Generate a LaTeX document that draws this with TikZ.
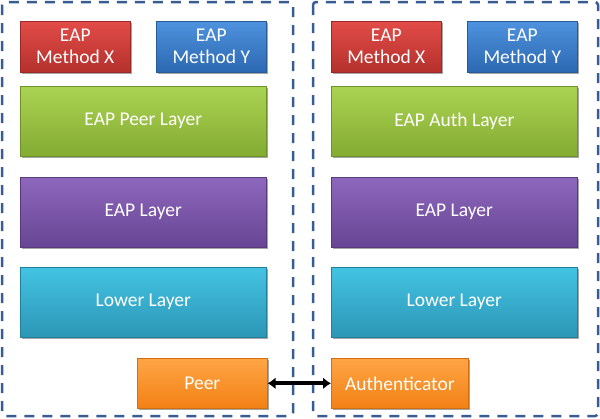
\documentclass[tikz,border=0pt]{standalone}
\usepackage{fontspec}
\setmainfont{Carlito}
\usetikzlibrary{shadows,arrows.meta}
\definecolor{frameblue}{HTML}{385D92}
\definecolor{redT}{HTML}{E24C48}\definecolor{redB}{HTML}{B5302C}\definecolor{redD}{HTML}{9A2A27}
\definecolor{bluT}{HTML}{4E92DD}\definecolor{bluB}{HTML}{2C68B2}\definecolor{bluD}{HTML}{265A99}
\definecolor{grnT}{HTML}{ABD352}\definecolor{grnB}{HTML}{84AB32}\definecolor{grnD}{HTML}{6F912A}
\definecolor{purT}{HTML}{8D67BC}\definecolor{purB}{HTML}{684594}\definecolor{purD}{HTML}{573A7C}
\definecolor{cyaT}{HTML}{43C3E2}\definecolor{cyaB}{HTML}{2C96B6}\definecolor{cyaD}{HTML}{23809C}
\definecolor{orgT}{HTML}{FFA545}\definecolor{orgB}{HTML}{F28115}\definecolor{orgD}{HTML}{D06E10}
\tikzset{
  frame/.style={draw=frameblue,line width=2.5pt,dash pattern=on 10pt off 8pt,rounded corners=3pt},
  blk/.style={anchor=north west,inner sep=0pt,text=white,font=\fontsize{19.5}{22}\selectfont,align=center,
    drop shadow={shadow xshift=1.5pt,shadow yshift=-1.5pt,opacity=0.35,fill=black}},
  redblk/.style={blk,top color=redT,bottom color=redB,draw=redD,line width=0.6pt},
  blublk/.style={blk,top color=bluT,bottom color=bluB,draw=bluD,line width=0.6pt},
  grnblk/.style={blk,top color=grnT,bottom color=grnB,draw=grnD,line width=0.6pt},
  purblk/.style={blk,top color=purT,bottom color=purB,draw=purD,line width=0.6pt},
  cyablk/.style={blk,top color=cyaT,bottom color=cyaB,draw=cyaD,line width=0.6pt},
  orgblk/.style={blk,top color=orgT,bottom color=orgB,draw=orgD,line width=0.6pt},
  linkbg/.style={line width=5.5pt,black!35,{Latex[length=10pt,width=15pt]}-{Latex[length=10pt,width=15pt]}},
  link/.style={line width=4pt,black,{Latex[length=8pt,width=12pt]}-{Latex[length=8pt,width=12pt]}}
}
\begin{document}
\begin{tikzpicture}[x=1pt,y=-1pt]
\useasboundingbox (0,0) rectangle (600,418);
\draw[frame] (2,2) rectangle (293,416);
\draw[frame] (313,2) rectangle (598,416);
% left column
\node[redblk,minimum width=110pt,minimum height=51pt] (lmx) at (20,21) {EAP\\Method X};
\node[blublk,minimum width=110pt,minimum height=51pt] (lmy) at (156,21) {EAP\\Method Y};
\node[grnblk,minimum width=246pt,minimum height=70pt] (lpeer) at (20,86) {EAP Peer Layer};
\node[purblk,minimum width=246pt,minimum height=70pt] (leap) at (20,177) {EAP Layer};
\node[cyablk,minimum width=246pt,minimum height=70pt] (llow) at (20,267) {Lower Layer};
\node[orgblk,minimum width=130pt,minimum height=50pt] (peer) at (137,358) {Peer};
% right column
\node[redblk,minimum width=110pt,minimum height=51pt] (rmx) at (331,21) {EAP\\Method X};
\node[blublk,minimum width=110pt,minimum height=51pt] (rmy) at (467,21) {EAP\\Method Y};
\node[grnblk,minimum width=246pt,minimum height=70pt] (rauth) at (331,86) {EAP Auth Layer};
\node[purblk,minimum width=246pt,minimum height=70pt] (reap) at (331,177) {EAP Layer};
\node[cyablk,minimum width=246pt,minimum height=70pt] (rlow) at (331,267) {Lower Layer};
\node[orgblk,minimum width=137pt,minimum height=50pt] (auth) at (331,358) {Authenticator};
\draw[link] (peer.east) -- (auth.west);
\end{tikzpicture}
\end{document}
